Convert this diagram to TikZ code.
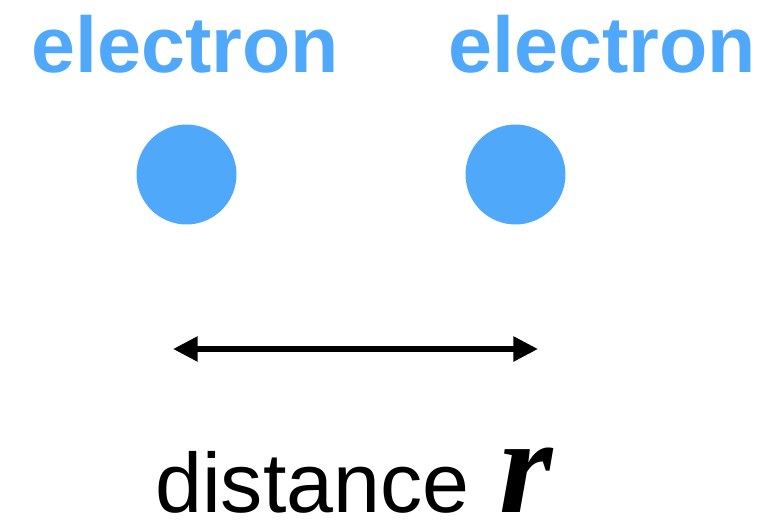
\documentclass[tikz,border=0pt]{standalone}
\usepackage{fontspec}
\setmainfont{Liberation Sans}
\newfontfamily\varfont{Liberation Serif}
\usetikzlibrary{arrows.meta}
\definecolor{electronblue}{RGB}{80,168,250}

\begin{document}
\begin{tikzpicture}[x=0.02cm, y=-0.02cm,
    particle/.style={circle, fill=electronblue, minimum size=2cm, inner sep=0pt},
    particlelabel/.style={anchor=base, text=electronblue, font=\fontsize{45}{50}\selectfont\bfseries, inner sep=0pt},
    separation/.style={line width=3.2pt, {Triangle[length=14pt, width=13.6pt]}-{Triangle[length=14pt, width=13.6pt]}}]
  \useasboundingbox (0,0) rectangle (765,524);

  % the two electrons
  \node[particle] (left) at (186.5,174.5) {};
  \node[particle] (right) at (515.5,174.5) {};
  \node[particlelabel] (leftlabel) at (185,72) {electron};
  \node[particlelabel] (rightlabel) at (602,72) {electron};

  % distance between them
  \coordinate (from) at (173,349);
  \coordinate (to) at (538,349);
  \draw[separation] (from) -- (to);
  \node[anchor=base west, inner sep=0pt, text depth=0pt, font=\fontsize{48}{52}\selectfont] (dist) at (155,512)
    {distance\hspace{17pt}{\varfont\fontsize{78}{80}\selectfont\bfseries\itshape r}};
\end{tikzpicture}
\end{document}
